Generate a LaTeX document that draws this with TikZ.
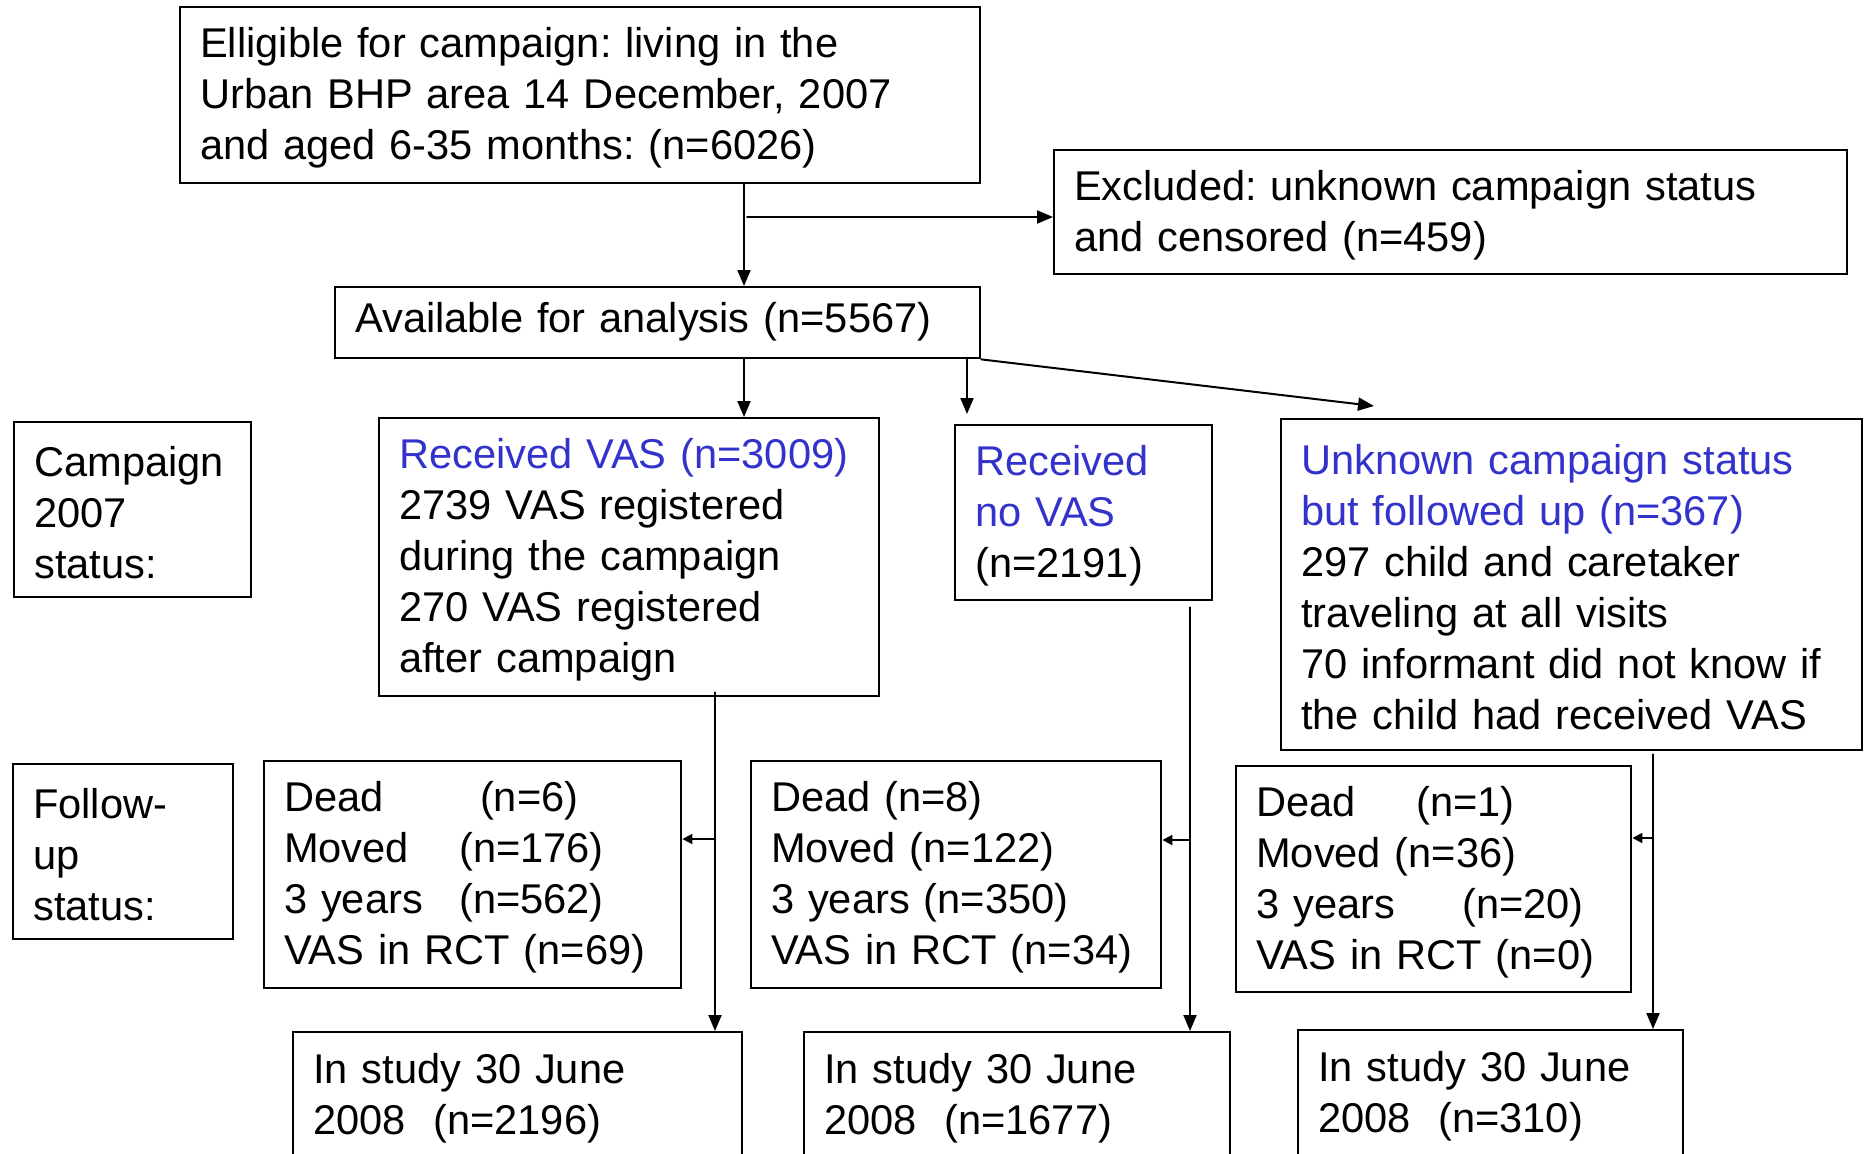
\documentclass[tikz,border=0pt]{standalone}
\usepackage{fontspec}
\setmainfont{Liberation Sans}
\usepackage{tikz}
\usetikzlibrary{arrows.meta}
\frenchspacing

\begin{document}
\begin{tikzpicture}
		[x=0.5pt,y=-0.5pt,line cap=round,
		%Styles
		box/.style={draw,line width=1.2pt,anchor=north west,align=left,inner xsep=10pt,inner ysep=0pt,
			font=\fontsize{20.8pt}{25.5pt}\selectfont,execute at begin node=\strut},
		flow line/.style={line width=1pt,-{Triangle[length=8pt,width=6.5pt]}},
		side arrow/.style={line width=1pt,-{Triangle[length=5pt,width=5pt]}}
		]
		
		%Colors
		\definecolor{vasblue}{RGB}{51,51,204}	%group headings
		
		\useasboundingbox (0,0) rectangle (1866,1153);
		\clip (0,0) rectangle (1866,1153);
		
		%The graphic
		\node[box,text width=380pt,minimum height=88pt] (elig) at (179,6)
			{Elligible for campaign: living in the\\Urban BHP area 14 December, 2007\\and aged 6-35 months: (n=6026)};
		\node[box,text width=376.5pt,minimum height=62pt] (excl) at (1053,149)
			{Excluded: unknown campaign status\\and censored (n=459)};
		\node[box,text width=302.5pt,minimum height=35.5pt] (avail) at (334,286)
			{Available for analysis (n=5567)};
		
		\node[box,text width=98.5pt,minimum height=87.5pt] (camp) at (13,421)
			{Campaign\\2007\\status:};
		\node[box,text width=230pt,minimum height=139pt] (recv) at (378,417)
			{\textcolor{vasblue}{Received VAS (n=3009)}\\2739 VAS registered\\during the campaign\\270 VAS registered\\after campaign};
		\node[box,text width=108.5pt,minimum height=87.5pt] (novas) at (954,424)
			{\textcolor{vasblue}{Received}\\\textcolor{vasblue}{no VAS}\\(n=2191)};
		\node[box,text width=270.5pt,minimum height=165.5pt] (unkn) at (1280,418)
			{\textcolor{vasblue}{Unknown campaign status}\\\textcolor{vasblue}{but followed up (n=367)}\\297 child and caretaker\\traveling at all visits\\70 informant did not know if\\the child had received VAS};
		
		\node[box,text width=90pt,minimum height=87.5pt] (follow) at (12,763)
			{Follow-\\up\\status:};
		\node[box,text width=188.5pt,minimum height=113.5pt] (dead1) at (263,760)
			{\makebox[98pt][l]{Dead}(n=6)\\\makebox[87.5pt][l]{Moved}(n=176)\\\makebox[87.5pt][l]{3 years}(n=562)\\VAS in RCT (n=69)};
		\node[box,text width=185pt,minimum height=113.5pt] (dead2) at (750,760)
			{Dead (n=8)\\Moved (n=122)\\3 years (n=350)\\VAS in RCT (n=34)};
		\node[box,text width=177.5pt,minimum height=113pt] (dead3) at (1235,765)
			{\makebox[80pt][l]{Dead}(n=1)\\Moved (n=36)\\\makebox[103pt][l]{3 years}(n=20)\\VAS in RCT (n=0)};
		
		\node[box,text width=204.5pt,minimum height=63pt] (study1) at (292,1031)
			{In study 30 June\\2008\ \ (n=2196)};
		\node[box,text width=193pt,minimum height=63pt] (study2) at (803,1031)
			{In study 30 June\\2008\ \ (n=1677)};
		\node[box,text width=172.5pt,minimum height=63pt] (study3) at (1297,1029)
			{In study 30 June\\2008\ \ (n=310)};
		
		%Split points
		\coordinate (j1) at (744,0);
		\coordinate (j2) at (747,217);
		\coordinate (j3) at (967,0);
		\coordinate (j4) at (1374,406);
		\coordinate (j5) at (715,839);
		\coordinate (j6) at (1190,840);
		\coordinate (j7) at (1653,838);
		
		\draw[flow line] (elig.south -| j1) -- (avail.north -| j1);
		\draw[flow line] (j2) -- (j2 -| excl.west);
		\draw[flow line] (avail.south -| j1) -- (recv.north -| j1);
		\draw[flow line,shorten >=5pt] (avail.south -| j3) -- (novas.north -| j3);
		\draw[flow line] (avail.south east) -- (j4);
		
		\draw[flow line] ([yshift=2.5pt]recv.south -| j5) -- (study1.north -| j5);
		\draw[side arrow] (j5) -- (j5 -| dead1.east);
		\draw[flow line] ([yshift=-3pt]novas.south -| j6) -- (study2.north -| j6);
		\draw[side arrow] (j6) -- (j6 -| dead2.east);
		\draw[flow line] ([yshift=-1.5pt]unkn.south -| j7) -- (study3.north -| j7);
		\draw[side arrow] (j7) -- (j7 -| dead3.east);
	\end{tikzpicture}
\end{document}
